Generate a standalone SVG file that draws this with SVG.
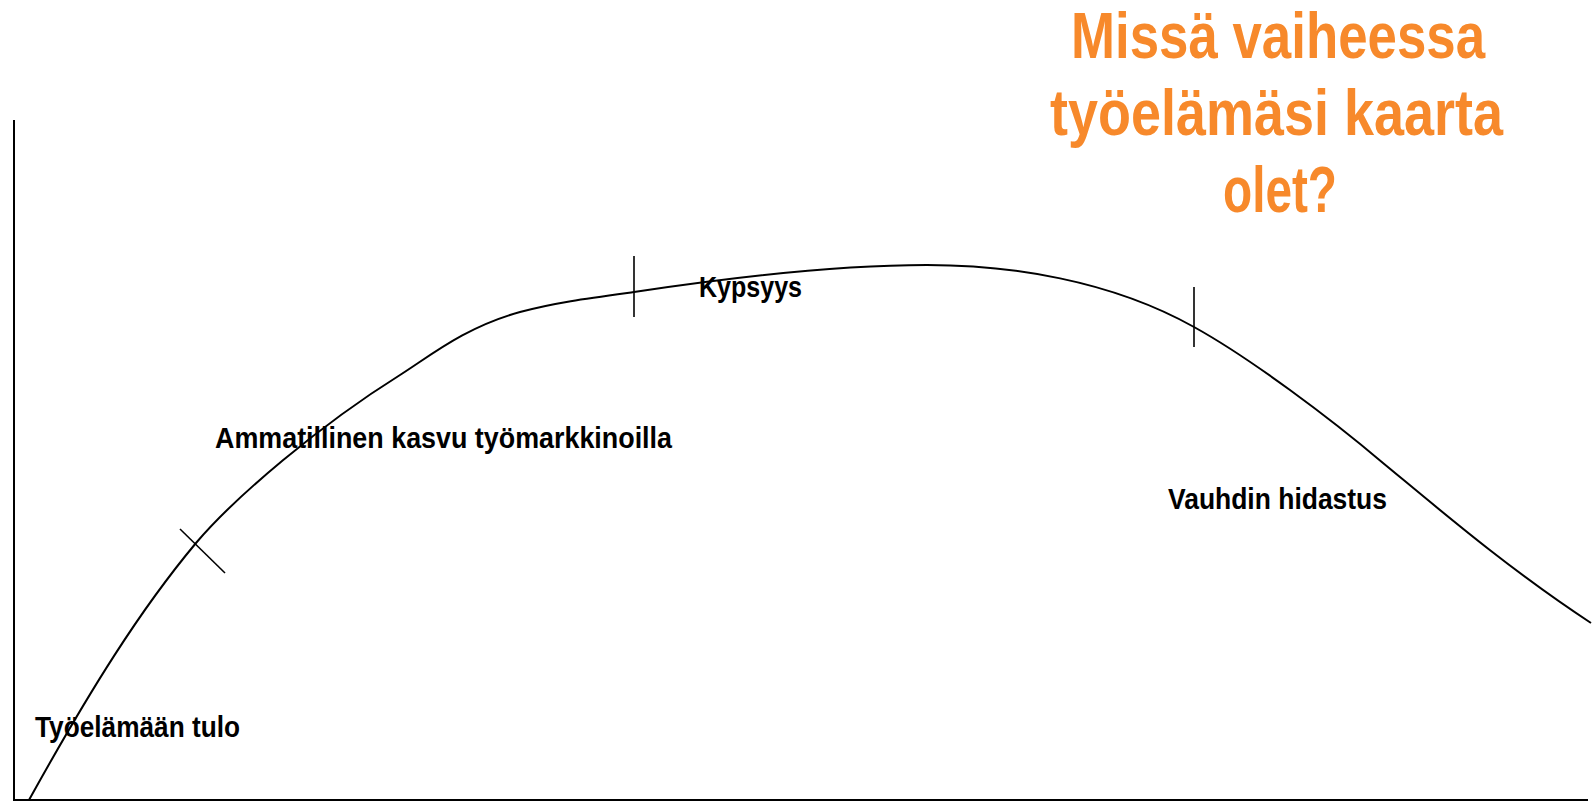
<svg xmlns="http://www.w3.org/2000/svg" width="1592" height="802" viewBox="0 0 1592 802">
<style>
.lbl{font-family:"Liberation Sans",Arial,sans-serif;font-weight:bold;font-size:30px;fill:#000}
.ttl{font-family:"Liberation Sans",Arial,sans-serif;font-weight:bold;font-size:64px;fill:#F7892B}
.ln{stroke:#000;fill:none}
</style>
<rect width="1592" height="802" fill="#fff"/>
<g id="axes">
<line class="ln" x1="14" y1="120" x2="14" y2="801" stroke-width="2"/>
<line class="ln" x1="13" y1="800" x2="1588" y2="800" stroke-width="2"/>
</g>
<g id="connectors">
<path id="curve" class="ln" stroke-width="2" d="M29,800 C90,690 140,610 196,543 C235,497 320,425 400,375 C430,356 465,327 520,312 C555,302.5 590,298 634,292 C720,279 830,265 927,265 C1010,265 1110,280 1194,327 C1250,358 1330,418 1383,463 C1440,510 1510,570 1591,623"/>
<line class="ln" stroke-width="1.6" x1="180" y1="529" x2="225" y2="573"/>
<line class="ln" stroke-width="1.6" x1="634" y1="256" x2="634" y2="317"/>
<line class="ln" stroke-width="1.6" x1="1194" y1="287" x2="1194" y2="347"/>
</g>
<g id="label-tulo"><text class="lbl" x="35" y="737" textLength="205" lengthAdjust="spacingAndGlyphs">Työelämään tulo</text></g>
<g id="label-kasvu"><text class="lbl" x="215" y="448" textLength="457" lengthAdjust="spacingAndGlyphs">Ammatillinen kasvu työmarkkinoilla</text></g>
<g id="label-kypsyys"><text class="lbl" x="699" y="297" textLength="103" lengthAdjust="spacingAndGlyphs">Kypsyys</text></g>
<g id="label-hidastus"><text class="lbl" x="1168" y="509" textLength="219" lengthAdjust="spacingAndGlyphs">Vauhdin hidastus</text></g>
<g id="title">
<text class="ttl" x="1071" y="58" textLength="414" lengthAdjust="spacingAndGlyphs">Missä vaiheessa</text>
<text class="ttl" x="1050" y="135" textLength="453" lengthAdjust="spacingAndGlyphs">työelämäsi kaarta</text>
<text class="ttl" x="1223" y="212" textLength="114" lengthAdjust="spacingAndGlyphs">olet?</text>
</g>
</svg>
